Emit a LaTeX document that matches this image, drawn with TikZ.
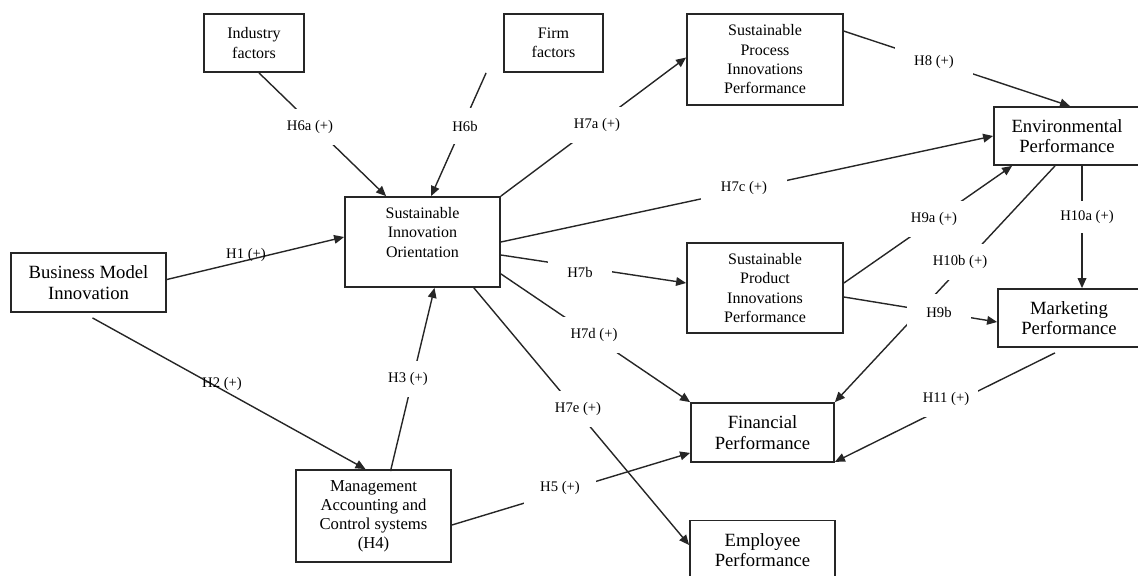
\documentclass[tikz,border=0pt]{standalone}
\usepackage{fontspec}
\setmainfont{Liberation Serif}
\usepackage{tikz}
\usetikzlibrary{arrows.meta,calc}
\tikzset{
  >={Triangle[length=7.5pt,width=6.5pt]},
  boxsize/.style 2 args={minimum width={#1*0.75pt}, minimum height={#2*0.75pt}},
  cbox/.style={draw=black!85, line width=1.35pt, fill=white, align=center, inner sep=0pt},
  smalltxt/.style={font=\fontsize{12}{14.5}\selectfont},
  bigtxt/.style={font=\fontsize{14}{15.5}\selectfont},
  link/.style={black!85, line width=1.05pt, ->},
  hyp/.style={font=\fontsize{11}{13}\selectfont, fill=white, inner sep=0pt, boxsize={64}{36}},
  hypover/.style={font=\fontsize{11}{13}\selectfont, inner sep=0pt},
}

\begin{document}
\begin{tikzpicture}[x=0.75pt, y=-0.75pt]
\clip (0,0) rectangle (1138,575);

% ------------------------------------------------------------------ constructs
\node[cbox, smalltxt, boxsize={100}{58}] (ind) at (254,43) {Industry\\factors};
\node[cbox, smalltxt, boxsize={99}{58}] (firm) at (553.5,43) {Firm\\factors};
\node[cbox, smalltxt, boxsize={156}{91}] (proc) at (765,59.5)
  {Sustainable\\Process\\Innovations\\Performance};
\node[cbox, bigtxt, boxsize={146}{58}] (env) at (1067,136) {Environmental\\Performance};
\node[cbox, smalltxt, boxsize={155}{90}] (sio) at (422.5,242)
  {Sustainable\\Innovation\\Orientation\\\mbox{}};
\node[cbox, bigtxt, boxsize={155}{59}] (bmi) at (88.5,282.5) {Business Model\\Innovation};
\node[cbox, smalltxt, boxsize={156}{90}] (prod) at (765,288)
  {Sustainable\\Product\\Innovations\\Performance};
\node[cbox, bigtxt, boxsize={142}{58}] (mkt) at (1069,318) {Marketing\\Performance};
\node[cbox, bigtxt, boxsize={143}{59}] (fin) at (762.5,432.5) {Financial\\Performance};
\node[cbox, bigtxt, boxsize={145}{59}] (emp) at (762.5,550) {Employee\\Performance};
\node[cbox, font=\fontsize{12.5}{14.3}\selectfont, boxsize={155}{92}] (macs) at (373.5,516)
  {Management\\Accounting and\\Control systems\\(H4)};

% ------------------------------------------------------------------ paths
\draw[link] ($(ind.south)+(5,0)$) -- ($(sio.north west)+(42,0)$);
\draw[link] ($(firm.south west)+(-17,0)$) -- ($(sio.north west)+(87,0)$);
\draw[link] (sio.north east) -- ($(proc.west)+(0,-2)$);
\draw[link] ($(proc.north east)+(0,18)$) -- ($(env.north)+(3,0)$);
\draw[link] (sio.east) -- (env.west);
\draw[link] ($(bmi.east)+(0,-3)$) -- ($(sio.west)+(0,-5)$);
\draw[link] ($(bmi.south)+(4,5)$) -- ($(macs.north)+(-8,0)$);
\draw[link] ($(macs.north)+(17,2)$) -- ($(sio.south)+(12,0)$);
\draw[link] ($(sio.east)+(0,13)$) -- ($(prod.west)+(0,-5)$);
\draw[link] ($(sio.south east)+(0,-14)$) -- (fin.north west);
\draw[link] ($(sio.south east)+(-27,0)$) -- ($(emp.west)+(0,-5)$);
\draw[link] ($(macs.east)+(0,9)$) -- ($(fin.south west)+(0,-10)$);
\draw[link] ($(prod.east)+(0,-5)$) -- ($(env.south west)+(19,0)$);
\draw[link] ($(env.south)+(-12,0)$) -- (fin.north east);
\draw[link] ($(env.south)+(15,0)$) -- ($(mkt.north)+(13,0)$);
\draw[link] ($(prod.east)+(0,9)$) -- ($(mkt.west)+(0,4)$);
\draw[link] ($(mkt.south)+(-14,5)$) -- ($(fin.south east)+(0,-1)$);

% ------------------------------------------------------------------ hypotheses
\node[hyp] (h6a) at (310,127) {H6a (+)};
\node[hyp] (h6b) at (465,126) {H6b};
\node[hyp] (h7a) at (597,125) {H7a (+)};
\node[hyp, boxsize={78}{36}] (h8) at (934,62) {H8 (+)};
\node[hyp, boxsize={86}{36}] (h7c) at (744,188) {H7c (+)};
\node[hypover] (h1) at (246,255) {H1 (+)};
\node[hypover] (h2) at (222,384) {H2 (+)};
\node[hyp] (h3) at (408,379) {H3 (+)};
\node[hyp] (h7b) at (580,272) {H7b};
\node[hyp] (h7d) at (594,335) {H7d (+)};
\node[hyp] (h7e) at (578,409) {H7e (+)};
\node[hyp, boxsize={72}{36}] (h5) at (560,488) {H5 (+)};
\node[hyp] (h9a) at (934,219) {H9a (+)};
\node[hyp] (h10b) at (960,262) {H10b (+)};
\node[hyp, boxsize={64}{32}] (h10a) at (1087,217) {H10a (+)};
\node[hyp] (h9b) at (939,312) {H9b};
\node[hyp] (h11) at (946,399) {H11 (+)};
\end{tikzpicture}
\end{document}
